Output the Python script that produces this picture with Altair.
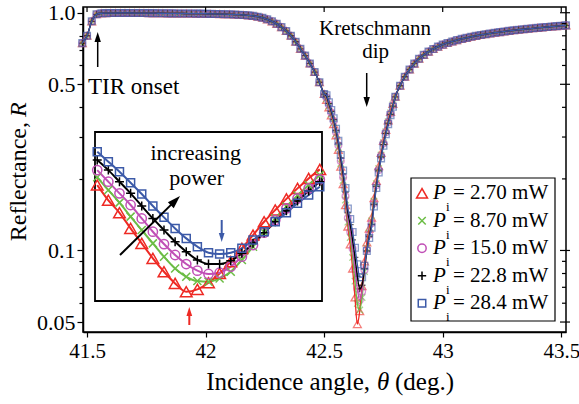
import altair as alt
import pandas as pd

FONT = "Liberation Serif"
W, H = 483, 325

# ---------------- data ----------------
SERIES_LABELS = ["2.70", "8.70", "15.0", "22.8", "28.4"]
COLORS = ["#ee2a24", "#6cbd45", "#c04fb6", "#000000", "#3c5aa8"]
X_TICKS = [41.5, 42.0, 42.5, 43.0, 43.5]
Y_TICKS = [0.05, 0.06, 0.07, 0.08, 0.09, 0.1, 0.2, 0.3, 0.4, 0.5, 0.6, 0.7, 0.8, 0.9, 1.0]
Y_MAJOR = [0.05, 0.1, 0.5, 1.0]
Y_MINOR = [0.06, 0.07, 0.08, 0.09, 0.2, 0.3, 0.4, 0.6, 0.7, 0.8, 0.9]

# shared wings of the reflectance curve (all powers overlap here)
ANGLES_LEFT = [41.48, 41.50, 41.52, 41.54, 41.56, 41.58, 41.60, 41.62, 41.64, 41.66,
               41.68, 41.70, 41.72, 41.74, 41.76, 41.78, 41.80, 41.82, 41.84, 41.86,
               41.88, 41.90, 41.92, 41.94, 41.96, 41.98, 42.00, 42.02, 42.04, 42.06,
               42.08, 42.10, 42.12, 42.14, 42.16, 42.18, 42.20, 42.22, 42.24, 42.26,
               42.28, 42.30, 42.32, 42.34, 42.36, 42.38, 42.40, 42.42, 42.44, 42.46,
               42.48, 42.50]
R_LEFT = [0.745, 0.80, 0.92, 0.985, 0.995, 0.996, 0.997, 0.997, 0.998, 0.998,
          0.998, 0.997, 0.997, 0.997, 0.996, 0.996, 0.995, 0.995, 0.994, 0.994,
          0.993, 0.993, 0.992, 0.992, 0.991, 0.991, 0.990, 0.989, 0.988, 0.987,
          0.986, 0.985, 0.983, 0.981, 0.978, 0.975, 0.970, 0.962, 0.952, 0.938,
          0.920, 0.898, 0.870, 0.838, 0.800, 0.755, 0.705, 0.660, 0.612, 0.563,
          0.510, 0.455]
ANGLES_RIGHT = [42.80, 42.82, 42.84, 42.86, 42.88, 42.90, 42.92, 42.94, 42.96, 42.98,
                43.00, 43.02, 43.04, 43.06, 43.08, 43.10, 43.12, 43.14, 43.16, 43.18,
                43.20, 43.22, 43.24, 43.26, 43.28, 43.30, 43.32, 43.34, 43.36, 43.38,
                43.40, 43.42, 43.44, 43.46, 43.48, 43.50, 43.52]
R_RIGHT = [0.443, 0.493, 0.538, 0.577, 0.611, 0.640, 0.665, 0.686, 0.704, 0.720,
           0.734, 0.746, 0.757, 0.767, 0.776, 0.784, 0.792, 0.799, 0.806, 0.812,
           0.818, 0.824, 0.829, 0.834, 0.839, 0.844, 0.848, 0.852, 0.856, 0.860,
           0.864, 0.868, 0.871, 0.875, 0.878, 0.882, 0.885]

# dip flanks, per power
ANGLES_DIP_L = [42.51, 42.52, 42.53, 42.54, 42.55, 42.56, 42.57, 42.58, 42.59]
ANGLES_DIP_R = [42.71, 42.72, 42.73, 42.74, 42.75, 42.76, 42.77, 42.78, 42.79]
DIP_L_270 = [0.430, 0.400, 0.370, 0.340, 0.305, 0.265, 0.225, 0.190, 0.155]
DIP_L_870 = [0.435, 0.405, 0.375, 0.345, 0.310, 0.271, 0.232, 0.197, 0.163]
DIP_L_150 = [0.440, 0.410, 0.380, 0.350, 0.315, 0.277, 0.238, 0.203, 0.169]
DIP_L_228 = [0.445, 0.415, 0.385, 0.355, 0.320, 0.283, 0.245, 0.210, 0.176]
DIP_L_284 = [0.450, 0.420, 0.390, 0.360, 0.325, 0.289, 0.252, 0.217, 0.183]
DIP_R_270 = [0.166, 0.196, 0.226, 0.257, 0.289, 0.321, 0.352, 0.383, 0.413]
DIP_R_870 = [0.161, 0.191, 0.221, 0.252, 0.284, 0.316, 0.348, 0.379, 0.410]
DIP_R_150 = [0.158, 0.188, 0.218, 0.250, 0.282, 0.314, 0.346, 0.377, 0.408]
DIP_R_228 = [0.156, 0.186, 0.216, 0.247, 0.279, 0.311, 0.343, 0.374, 0.405]
DIP_R_284 = [0.153, 0.183, 0.213, 0.244, 0.276, 0.308, 0.340, 0.371, 0.402]

# dip bottom (also shown magnified in the inset)
INSET_ANGLES = [42.600, 42.605, 42.610, 42.615, 42.620, 42.625, 42.630, 42.635, 42.640,
                42.645, 42.650, 42.655, 42.660, 42.665, 42.670, 42.675, 42.680, 42.685,
                42.690, 42.695, 42.700]
IN_270 = [0.1260, 0.1150, 0.1060, 0.0947, 0.0839, 0.0731, 0.0634, 0.0550, 0.0490, 0.0507,
          0.0555, 0.0622, 0.0707, 0.0803, 0.0899, 0.0995, 0.1080, 0.1160, 0.1236, 0.1308, 0.1373]
IN_870 = [0.1316, 0.1224, 0.1133, 0.1032, 0.0935, 0.0839, 0.0743, 0.0658, 0.0598, 0.0567,
          0.0562, 0.0586, 0.0634, 0.0719, 0.0815, 0.0920, 0.1020, 0.1105, 0.1185, 0.1260, 0.1332]
IN_150 = [0.1368, 0.1284, 0.1200, 0.1116, 0.1019, 0.0923, 0.0834, 0.0755, 0.0690, 0.0642,
          0.0618, 0.0627, 0.0671, 0.0743, 0.0827, 0.0916, 0.1007, 0.1092, 0.1164, 0.1236, 0.1301]
IN_228 = [0.1441, 0.1368, 0.1284, 0.1200, 0.1109, 0.1019, 0.0935, 0.0851, 0.0779, 0.0719,
          0.0690, 0.0690, 0.0714, 0.0767, 0.0839, 0.0916, 0.0995, 0.1075, 0.1145, 0.1217, 0.1284]
IN_284 = [0.1501, 0.1429, 0.1356, 0.1277, 0.1195, 0.1109, 0.1027, 0.0947, 0.0875, 0.0815,
          0.0772, 0.0762, 0.0772, 0.0803, 0.0863, 0.0923, 0.0995, 0.1060, 0.1128, 0.1188, 0.1248]

DIP_L = [DIP_L_270, DIP_L_870, DIP_L_150, DIP_L_228, DIP_L_284]
DIP_R = [DIP_R_270, DIP_R_870, DIP_R_150, DIP_R_228, DIP_R_284]
INSET_R = [IN_270, IN_870, IN_150, IN_228, IN_284]

# ---------------- styles ----------------
X_PATH = "M-1,-1L1,1M-1,1L1,-1"
PLUS_PATH = "M-1,0L1,0M0,-1L0,1"
SHAPES = ["triangle-up", X_PATH, "circle", PLUS_PATH, "square"]
MAIN_SIZES = [62, 42, 46, 46, 46]
INSET_SIZES = [136, 64, 86, 81, 64]
LEG_SIZES = [120, 56, 70, 70, 56]
ARROW_PATH = "M0,0L0.32,1L-0.32,1Z"

X_SCALE = alt.Scale(domain=[41.483, 43.52], nice=False, zero=False)
Y_SCALE = alt.Scale(type="log", domain=[0.0454, 1.057], nice=False)
MAJOR_TEST = "indexof([0.05, 0.1, 0.5, 1], datum.value) >= 0"
X_AXIS = alt.Axis(values=X_TICKS, format=".1~f", title=None, grid=False, tickSize=5,
                  tickWidth=1.2, tickColor="black", labelPadding=3, labelFontSize=21,
                  labelFont=FONT, labelColor="black", domainColor="black", domainWidth=1.5)
Y_AXIS = alt.Axis(values=Y_TICKS,
                  labelExpr="datum.value == 1 ? '1.0' : (indexof([0.05, 0.1, 0.5], datum.value) >= 0 ? '' + datum.value : '')",
                  title=None, grid=False, labelOverlap=False,
                  tickSize={"condition": {"test": MAJOR_TEST, "value": 6}, "value": 4},
                  tickWidth=1.2, tickColor="black", labelPadding=2, labelFontSize=22,
                  labelFont=FONT, labelColor="black", domainColor="black", domainWidth=1.5)
EX = alt.X("angle:Q", scale=X_SCALE, axis=X_AXIS)
EY = alt.Y("R:Q", scale=Y_SCALE, axis=Y_AXIS)

X_IN = alt.Scale(domain=[42.599, 42.701], range=[12, 239], nice=False, zero=False)
Y_IN = alt.Scale(domain=[0.0423, 0.1643], range=[294, 125], nice=False, zero=False)
IX = alt.X("angle:Q", scale=X_IN, axis=None)
IY = alt.Y("R:Q", scale=Y_IN, axis=None)


def main_df(i):
    angles = ANGLES_LEFT + ANGLES_DIP_L + INSET_ANGLES[::2] + ANGLES_DIP_R + ANGLES_RIGHT
    vals = R_LEFT + DIP_L[i] + INSET_R[i][::2] + DIP_R[i] + R_RIGHT
    return pd.DataFrame({"angle": angles, "R": vals})


main_points, main_lines = [], []
for i in range(5):
    df = main_df(i)
    main_points.append(alt.Chart(df).mark_point(
        shape=SHAPES[i], size=MAIN_SIZES[i], filled=False, color=COLORS[i],
        strokeWidth=1.3, opacity=0.6).encode(x=EX, y=EY))
    main_lines.append(alt.Chart(df).mark_line(
        color=COLORS[i], strokeWidth=1.3, interpolate="monotone").encode(x=EX, y=EY))

top_ticks = alt.Chart(pd.DataFrame({"angle": X_TICKS})).mark_rule(
    color="black", strokeWidth=1.2).encode(x=EX, y=alt.value(0), y2=alt.value(5))
right_minor = alt.Chart(pd.DataFrame({"R": Y_MINOR})).mark_rule(
    color="black", strokeWidth=1.2).encode(y=EY, x=alt.value(W - 4), x2=alt.value(W))
right_major = alt.Chart(pd.DataFrame({"R": Y_MAJOR})).mark_rule(
    color="black", strokeWidth=1.2).encode(y=EY, x=alt.value(W - 6), x2=alt.value(W + 4))

main = alt.layer(*main_points, *main_lines, top_ticks, right_minor, right_major)

ONE = pd.DataFrame({"k": [0]})
inset_box = alt.Chart(ONE).mark_rect(fill="white", stroke="black", strokeWidth=1.8).encode(
    x=alt.value(12), x2=alt.value(239), y=alt.value(125), y2=alt.value(294))
inset_layers = [inset_box]
for i in range(5):
    df = pd.DataFrame({"angle": INSET_ANGLES, "R": INSET_R[i]})
    inset_layers.append(alt.Chart(df).mark_line(
        color=COLORS[i], strokeWidth=2, interpolate="monotone").encode(x=IX, y=IY))
for i in range(5):
    df = pd.DataFrame({"angle": INSET_ANGLES, "R": INSET_R[i]})
    inset_layers.append(alt.Chart(df).mark_point(
        shape=SHAPES[i], size=INSET_SIZES[i], filled=False, color=COLORS[i],
        strokeWidth=1.5, opacity=1).encode(x=IX, y=IY))
inset = alt.layer(*inset_layers)


def text(txt, x, y, size, align="center", baseline="alphabetic", italic=False, angle=None):
    kw = dict(text=txt, font=FONT, fontSize=size, align=align, baseline=baseline, color="black")
    if italic:
        kw["fontStyle"] = "italic"
    if angle is not None:
        kw["angle"] = angle
    return alt.Chart(ONE).mark_text(**kw).encode(x=alt.value(x), y=alt.value(y))


def arrow(x1, y1, x2, y2, color, width, head_len, angle):
    dx, dy = x2 - x1, y2 - y1
    n = (dx * dx + dy * dy) ** 0.5
    ex, ey = x2 - dx / n * head_len * 0.7, y2 - dy / n * head_len * 0.7
    line = alt.Chart(ONE).mark_rule(color=color, strokeWidth=width).encode(
        x=alt.value(x1), y=alt.value(y1), x2=alt.value(ex), y2=alt.value(ey))
    head = alt.Chart(ONE).mark_point(shape=ARROW_PATH, size=4 * head_len * head_len,
                                     filled=True, color=color, opacity=1, strokeWidth=0,
                                     angle=angle).encode(x=alt.value(x2), y=alt.value(y2))
    return [line, head]


annots = []
annots += arrow(14.7, 60, 14.7, 25, "black", 1.5, 10, 0)
annots += arrow(283.7, 66, 283.7, 100, "black", 1.5, 10, 180)
annots += arrow(37, 248, 97, 189, "black", 2, 13, 45)
annots += arrow(138.7, 213, 138.7, 235, COLORS[4], 2, 9, 180)
annots += arrow(106.3, 318, 106.3, 300, COLORS[0], 2, 9, 0)
annots += [
    text("TIR onset", 5, 87, 23, align="left"),
    text("Kretschmann", 292, 28, 21),
    text("dip", 292.7, 51, 21),
    text("increasing", 112.7, 153, 22),
    text("power", 113.7, 178, 22),
    text("Reflectance,", -64.5, 115, 24, align="right", baseline="middle", angle=270),
    text("R", -64.5, 110, 24, align="left", baseline="middle", italic=True, angle=270),
    text("Incidence angle,", 287, 383, 25, align="right"),
    text("θ", 294, 383, 25, align="left", italic=True),
    text("(deg.)", 312, 383, 25, align="left"),
]

legend = [alt.Chart(ONE).mark_rect(fill="white", stroke="black", strokeWidth=1.2).encode(
    x=alt.value(328), x2=alt.value(472), y=alt.value(171), y2=alt.value(314))]
for i in range(5):
    yc = 186.3 + 27.5 * i
    legend.append(alt.Chart(ONE).mark_point(
        shape=SHAPES[i], size=LEG_SIZES[i], filled=False, color=COLORS[i],
        strokeWidth=1.5, opacity=1).encode(x=alt.value(339), y=alt.value(yc)))
    legend.append(text("P", 350, yc, 21, align="left", baseline="middle", italic=True))
    legend.append(text("i", 363, yc + 14, 13, align="left", baseline="middle"))
    legend.append(text("= " + SERIES_LABELS[i] + " mW", 370, yc, 21, align="left", baseline="middle"))

chart = alt.layer(main, inset, *annots, *legend).resolve_scale(
    x="independent", y="independent"
).properties(
    width=W, height=H,
    padding={"left": 83, "top": 7, "right": 13, "bottom": 72},
    autosize=alt.AutoSizeParams(type="none"),
    background="white",
).configure_view(stroke="black", strokeWidth=1.5
).configure_text(font=FONT).configure_axis(labelFont=FONT, titleFont=FONT)

chart.save("out.html", embed_options={"renderer": "svg", "actions": False})
